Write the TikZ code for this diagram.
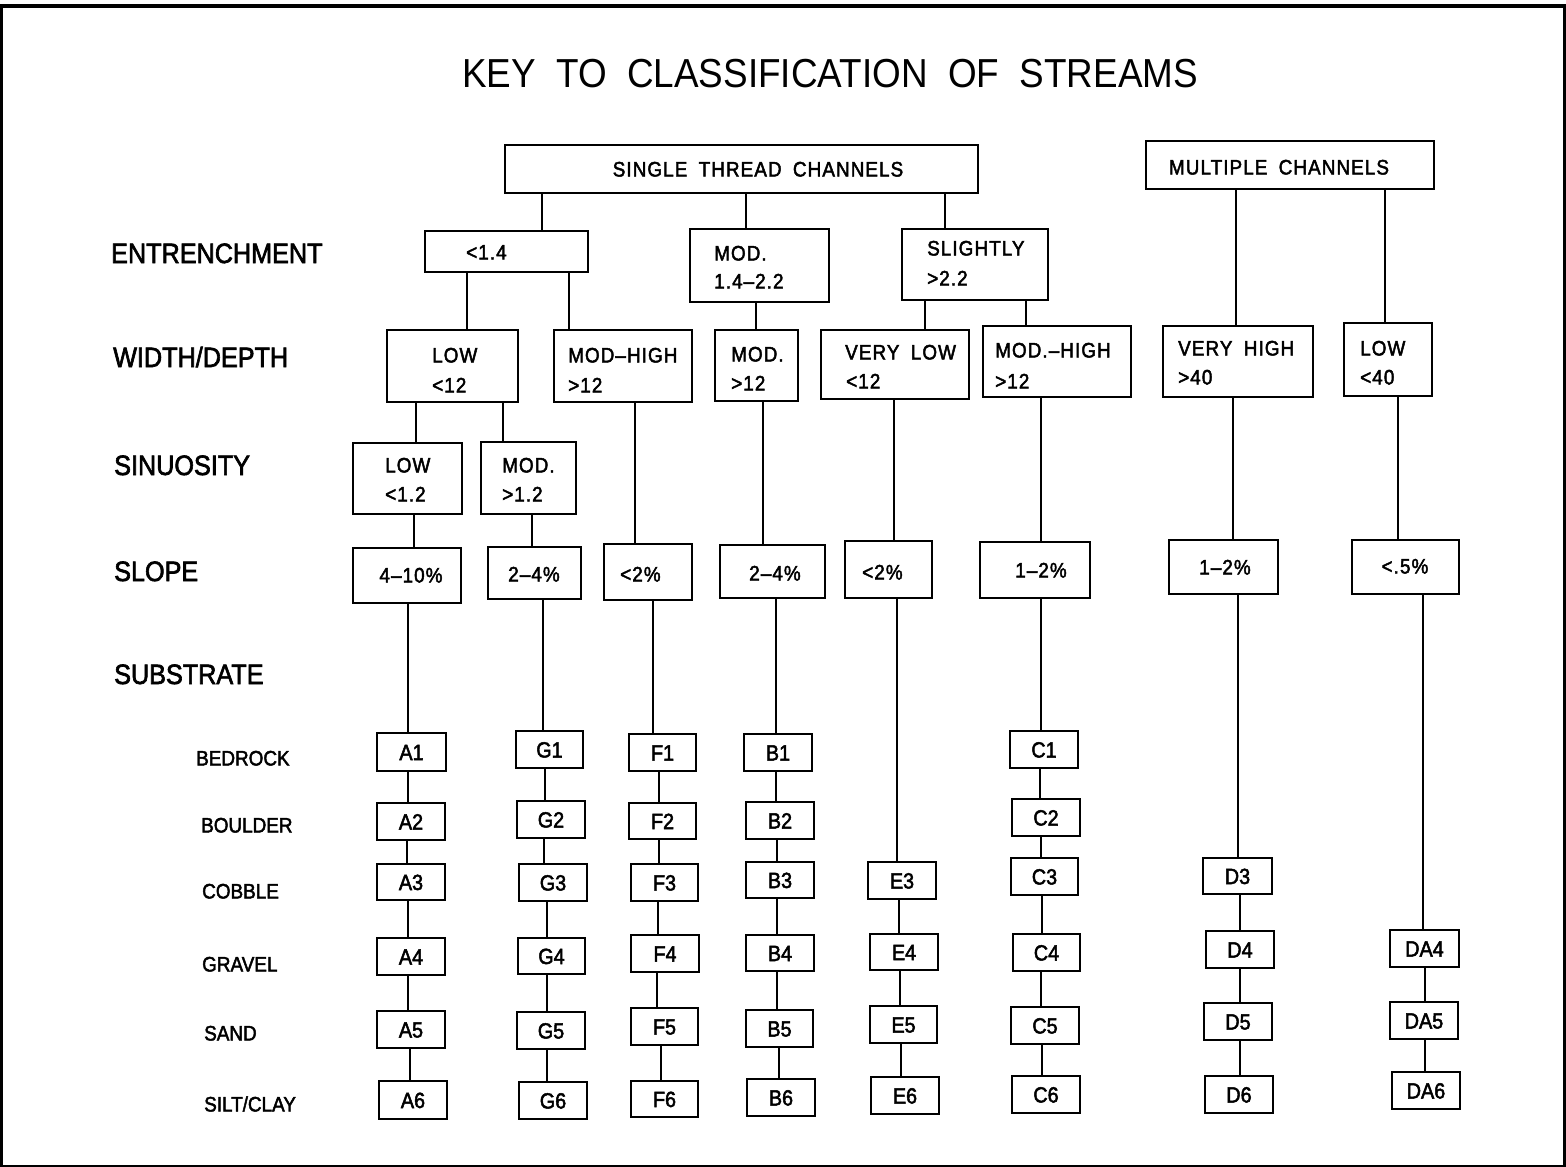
\documentclass[tikz,border=0pt]{standalone}
\usepackage{fontspec}
\setmainfont{Liberation Sans}
\newfontfamily\fT[FakeStretch=0.91,WordSpace=2.0]{Liberation Sans}
\newfontfamily\fA[FakeStretch=0.9,WordSpace=1.8,FakeBold=2.2]{Liberation Sans}
\newfontfamily\fB[FakeStretch=0.9,WordSpace=1.8,LetterSpace=5,FakeBold=2.2]{Liberation Sans}
\tikzset{
  bxs/.style={draw, line width=1.6pt, inner sep=0pt, outer sep=0pt, anchor=north west},
  ln/.style={line width=1.6pt},
  ttl/.style={font=\fT\fontsize{40.5}{40.5}\selectfont, inner sep=0pt, text height=29pt, text depth=0pt},
  rowlab/.style={font=\fA\fontsize{28}{28}\selectfont, inner sep=0pt, anchor=west, text height=20pt, text depth=0pt},
  sublab/.style={font=\fA\fontsize{21}{21}\selectfont, inner sep=0pt, anchor=west, text height=15pt, text depth=0pt},
  txt/.style={font=\fB\fontsize{21}{21}\selectfont, inner sep=0pt, anchor=west, text height=15pt, text depth=0pt},
  ctxt/.style={font=\fB\fontsize{21}{21}\selectfont, inner sep=0pt, text height=15pt, text depth=0pt},
  code/.style={font=\fA\fontsize{22}{22}\selectfont, inner sep=0pt, text height=16pt, text depth=0pt},
}
\newcommand\bx[5]{\node[bxs, minimum width=#4pt-#2pt, minimum height=#5pt-#3pt] (#1) at (#2,#3) {};}
\newcommand\cbx[6]{\bx{#1}{#2}{#3}{#4}{#5}\node[code] (#1t) at (#1) {#6};}
\newcommand\cn[3]{\draw[ln] (#1.south -| #3,0) -- (#2.north -| #3,0);}
\begin{document}
\begin{tikzpicture}[x=1pt,y=-1pt]
\useasboundingbox (0,0) rectangle (1566,1167);
% frame
\fill[black] (0,4) rectangle (1566,8);
\fill[black] (0,4) rectangle (3.3,1167);
\fill[black] (1562.7,4) rectangle (1566,1167);
\fill[black] (0,1165.3) rectangle (1566,1167);
% title
\node[ttl] (title) at (830,73) {KEY TO CLASSIFICATION OF STREAMS};
% row labels
\node[rowlab] (rl1) at (111,253) {ENTRENCHMENT};
\node[rowlab] (rl2) at (113,357) {WIDTH/DEPTH};
\node[rowlab] (rl3) at (114,465) {SINUOSITY};
\node[rowlab] (rl4) at (114,571) {SLOPE};
\node[rowlab] (rl5) at (114,674) {SUBSTRATE};
\node[sublab] (sl1) at (196,758) {BEDROCK};
\node[sublab] (sl2) at (201,825) {BOULDER};
\node[sublab] (sl3) at (202,891) {COBBLE};
\node[sublab] (sl4) at (202,964) {GRAVEL};
\node[sublab] (sl5) at (204,1033) {SAND};
\node[sublab] (sl6) at (204,1104) {SILT/CLAY};
% top boxes
\bx{stc}{505}{145}{978}{193}
\node[ctxt] (stct) at (758,169) {SINGLE THREAD CHANNELS};
\bx{mc}{1146}{141}{1434}{189}
\node[ctxt] (mct) at (1279,167) {MULTIPLE CHANNELS};
% entrenchment
\bx{en1}{425}{231}{588}{272}
\node[txt] (en1t) at (466,252) {<1.4};
\bx{en2}{690}{229}{829}{302}
\node[txt] (en2a) at (714,253) {MOD.};
\node[txt] (en2b) at (714,281) {1.4–2.2};
\bx{en3}{902}{229}{1048}{300}
\node[txt] (en3a) at (927,248) {SLIGHTLY};
\node[txt] (en3b) at (927,278) {>2.2};
% width/depth
\bx{w1}{387}{330}{518}{402}
\node[txt] (w1a) at (432,355) {LOW};
\node[txt] (w1b) at (432,385) {<12};
\bx{w2}{554}{330}{692}{402}
\node[txt] (w2a) at (568,355) {MOD–HIGH};
\node[txt] (w2b) at (568,385) {>12};
\bx{w3}{715}{330}{798}{401}
\node[txt] (w3a) at (731,354) {MOD.};
\node[txt] (w3b) at (731,383) {>12};
\bx{w4}{821}{330}{969}{399}
\node[txt] (w4a) at (845,352) {VERY LOW};
\node[txt] (w4b) at (846,381) {<12};
\bx{w5}{983}{326}{1131}{397}
\node[txt] (w5a) at (995,350) {MOD.–HIGH};
\node[txt] (w5b) at (995,381) {>12};
\bx{w6}{1163}{326}{1313}{397}
\node[txt] (w6a) at (1178,348) {VERY HIGH};
\node[txt] (w6b) at (1178,377) {>40};
\bx{w7}{1344}{323}{1432}{396}
\node[txt] (w7a) at (1360,348) {LOW};
\node[txt] (w7b) at (1360,377) {<40};
% sinuosity
\bx{s1}{353}{443}{462}{514}
\node[txt] (s1a) at (385,465) {LOW};
\node[txt] (s1b) at (385,494) {<1.2};
\bx{s2}{481}{442}{576}{514}
\node[txt] (s2a) at (502,465) {MOD.};
\node[txt] (s2b) at (502,494) {>1.2};
% slope
\bx{p1}{353}{548}{461}{603}
\node[ctxt] (p1t) at (411,575) {4–10\%};
\bx{p2}{488}{547}{581}{599}
\node[ctxt] (p2t) at (534,574) {2–4\%};
\bx{p3}{604}{544}{692}{600}
\node[txt] (p3t) at (620,574) {<2\%};
\bx{p4}{720}{545}{825}{598}
\node[ctxt] (p4t) at (775,573) {2–4\%};
\bx{p5}{845}{541}{932}{598}
\node[txt] (p5t) at (862,572) {<2\%};
\bx{p6}{980}{542}{1090}{598}
\node[ctxt] (p6t) at (1041,570) {1–2\%};
\bx{p7}{1169}{540}{1278}{594}
\node[ctxt] (p7t) at (1225,567) {1–2\%};
\bx{p8}{1352}{540}{1459}{594}
\node[ctxt] (p8t) at (1405,566) {<.5\%};
% substrate boxes
\cbx{a1}{377}{733}{446}{771}{A1}
\cbx{a2}{377}{803}{445}{840}{A2}
\cbx{a3}{377}{864}{445}{900}{A3}
\cbx{a4}{377}{938}{445}{975}{A4}
\cbx{a5}{377}{1011}{445}{1048}{A5}
\cbx{a6}{379}{1081}{447}{1119}{A6}
\cbx{g1}{516}{731}{583}{768}{G1}
\cbx{g2}{517}{801}{585}{838}{G2}
\cbx{g3}{519}{864}{587}{901}{G3}
\cbx{g4}{518}{938}{585}{974}{G4}
\cbx{g5}{517}{1012}{585}{1049}{G5}
\cbx{g6}{519}{1082}{587}{1119}{G6}
\cbx{f1}{629}{734}{696}{771}{F1}
\cbx{f2}{629}{803}{696}{839}{F2}
\cbx{f3}{631}{864}{698}{901}{F3}
\cbx{f4}{631}{935}{699}{972}{F4}
\cbx{f5}{631}{1008}{698}{1045}{F5}
\cbx{f6}{631}{1081}{698}{1117}{F6}
\cbx{b1}{744}{734}{812}{771}{B1}
\cbx{b2}{746}{802}{814}{839}{B2}
\cbx{b3}{746}{862}{814}{898}{B3}
\cbx{b4}{746}{935}{814}{971}{B4}
\cbx{b5}{746}{1010}{813}{1047}{B5}
\cbx{b6}{747}{1079}{815}{1116}{B6}
\cbx{e3}{868}{862}{936}{899}{E3}
\cbx{e4}{870}{934}{938}{970}{E4}
\cbx{e5}{870}{1006}{937}{1043}{E5}
\cbx{e6}{871}{1077}{939}{1114}{E6}
\cbx{c1}{1010}{731}{1078}{768}{C1}
\cbx{c2}{1012}{799}{1080}{836}{C2}
\cbx{c3}{1011}{858}{1078}{895}{C3}
\cbx{c4}{1013}{934}{1080}{971}{C4}
\cbx{c5}{1011}{1007}{1079}{1044}{C5}
\cbx{c6}{1012}{1076}{1080}{1113}{C6}
\cbx{d3}{1203}{858}{1272}{894}{D3}
\cbx{d4}{1206}{931}{1274}{968}{D4}
\cbx{d5}{1204}{1003}{1272}{1040}{D5}
\cbx{d6}{1205}{1076}{1273}{1113}{D6}
\cbx{da4}{1390}{930}{1459}{967}{DA4}
\cbx{da5}{1390}{1002}{1458}{1039}{DA5}
\cbx{da6}{1392}{1072}{1460}{1109}{DA6}
% connectors
\cn{stc}{en1}{542} \cn{stc}{en2}{746} \cn{stc}{en3}{945}
\cn{mc}{w6}{1236} \cn{mc}{w7}{1385}
\cn{en1}{w1}{467} \cn{en1}{w2}{569}
\cn{en2}{w3}{756}
\cn{en3}{w4}{925} \cn{en3}{w5}{1026}
\cn{w1}{s1}{416} \cn{w1}{s2}{503}
\cn{w2}{p3}{635} \cn{w3}{p4}{763} \cn{w4}{p5}{894}
\cn{w5}{p6}{1041} \cn{w6}{p7}{1233} \cn{w7}{p8}{1398}
\cn{s1}{p1}{414} \cn{s2}{p2}{532}
\cn{p1}{a1}{408} \cn{p2}{g1}{543} \cn{p3}{f1}{653} \cn{p4}{b1}{776}
\cn{p5}{e3}{897} \cn{p6}{c1}{1041} \cn{p7}{d3}{1238} \cn{p8}{da4}{1423}
\cn{a1}{a2}{408} \cn{a2}{a3}{407} \cn{a3}{a4}{408} \cn{a4}{a5}{408} \cn{a5}{a6}{410}
\cn{g1}{g2}{545} \cn{g2}{g3}{544} \cn{g3}{g4}{547} \cn{g4}{g5}{547} \cn{g5}{g6}{547}
\cn{f1}{f2}{659} \cn{f2}{f3}{659} \cn{f3}{f4}{658} \cn{f4}{f5}{657} \cn{f5}{f6}{661}
\cn{b1}{b2}{776} \cn{b2}{b3}{777} \cn{b3}{b4}{777} \cn{b4}{b5}{777} \cn{b5}{b6}{779}
\cn{e3}{e4}{899} \cn{e4}{e5}{900} \cn{e5}{e6}{901}
\cn{c1}{c2}{1040} \cn{c2}{c3}{1041} \cn{c3}{c4}{1042} \cn{c4}{c5}{1041} \cn{c5}{c6}{1042}
\cn{d3}{d4}{1240} \cn{d4}{d5}{1240} \cn{d5}{d6}{1240}
\cn{da4}{da5}{1425} \cn{da5}{da6}{1425}
\end{tikzpicture}
\end{document}
